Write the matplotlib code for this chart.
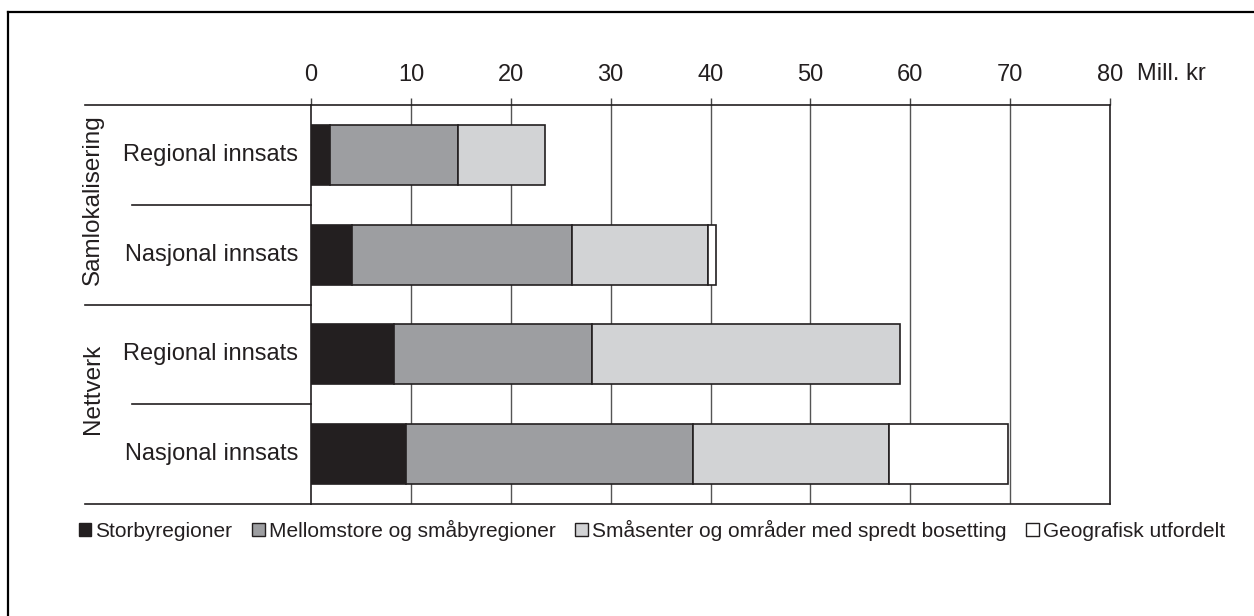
# -*- coding: utf-8 -*-

"""
Stablet liggende stolpediagram: Samlokalisering / Nettverk, mill. kr

"""

import matplotlib.pyplot as plt
from matplotlib.patches import Patch
from matplotlib.lines import Line2D
import numpy as np

# data
rader = ['Regional innsats', 'Nasjonal innsats', 'Regional innsats', 'Nasjonal innsats']
grupper = ['Samlokalisering', 'Nettverk']
kategorier = ['Storbyregioner', 'Mellomstore og småbyregioner',
              'Småsenter og områder med spredt bosetting', 'Geografisk utfordelt']
storby = [1.9, 4.1, 8.3, 9.5]
mellom = [12.8, 22.0, 19.8, 28.7]
smaa = [8.7, 13.6, 30.9, 19.7]
geo = [0.0, 0.9, 0.0, 11.9]
x_ticks = [0, 10, 20, 30, 40, 50, 60, 70, 80]

farger = ['#231f20', '#9d9ea1', '#d2d3d5', '#ffffff']
tekst = '#231f20'

plt.rcParams['font.family'] = ['Liberation Sans', 'DejaVu Sans']

fig = plt.figure(figsize=(12.54, 6.16), dpi=100)
W, H = 1254, 616
ax = fig.add_axes([311 / W, 1 - 504 / H, (1110 - 311) / W, (504 - 105) / H])

y = np.arange(len(rader))
venstre = np.zeros(len(rader))
for serie, farge in zip([storby, mellom, smaa, geo], farger):
    vals = np.array(serie)
    lw = [1.2 if v > 0 else 0 for v in vals]
    ax.barh(y, vals, left=venstre, height=0.6, color=farge, edgecolor='#231f20',
            linewidth=lw, zorder=3)
    venstre += vals

ax.set_ylim(len(rader) - 0.5, -0.5)
ax.set_xlim(0, 80)
ax.set_yticks([])
ax.set_xticks(x_ticks)
ax.xaxis.tick_top()
ax.tick_params(axis='x', direction='out', length=5, width=1, color='#444444',
               pad=9, labelsize=17, labelcolor=tekst)

# vertikale rutenettlinjer
for t in x_ticks[1:-1]:
    ax.axvline(t, color='#555555', lw=1, zorder=1)

for side in ['left', 'right', 'top', 'bottom']:
    ax.spines[side].set_color('#231f20')
    ax.spines[side].set_linewidth(1.2)

fig.text(1137 / W, 1 - 80 / H, 'Mill. kr', fontsize=17, color=tekst, va='baseline', ha='left')

# radetiketter og skillelinjer til venstre
trans = ax.get_yaxis_transform()
for i, r in enumerate(rader):
    ax.text(-13 / 799, i, r, transform=trans, ha='right', va='center', fontsize=17, color=tekst)

for yy, x0 in zip([-0.5, 0.5, 1.5, 2.5, 3.5], [85, 132, 85, 132, 85]):
    ax.add_line(Line2D([(x0 - 311) / 799, 0], [yy, yy], transform=trans, color='#231f20',
                       lw=1.2, clip_on=False))

ax.text((93 - 311) / 799, 0.45, grupper[0], transform=trans, rotation=90, ha='center',
        va='center', fontsize=17.5, color=tekst)
ax.text((93 - 311) / 799, 2.35, grupper[1], transform=trans, rotation=90, ha='center',
        va='center', fontsize=17.5, color=tekst)

# tegnforklaring
handles = [Patch(facecolor=f, edgecolor='#231f20', linewidth=1) for f in farger]
fig.legend(handles, kategorier, loc='center', bbox_to_anchor=(652 / W, 1 - 530 / H),
           ncol=4, frameon=False, fontsize=15, handlelength=0.6, handleheight=0.6,
           handletextpad=0.2, columnspacing=0.95, labelcolor=tekst)

# ramme rundt figuren
fig.add_artist(Line2D([8 / W, 1], [1 - 12 / H, 1 - 12 / H], transform=fig.transFigure,
                      color='black', lw=1.6))
fig.add_artist(Line2D([8 / W, 8 / W], [0, 1 - 12 / H], transform=fig.transFigure,
                      color='black', lw=1.6))

fig.savefig('out.png', dpi=100)
